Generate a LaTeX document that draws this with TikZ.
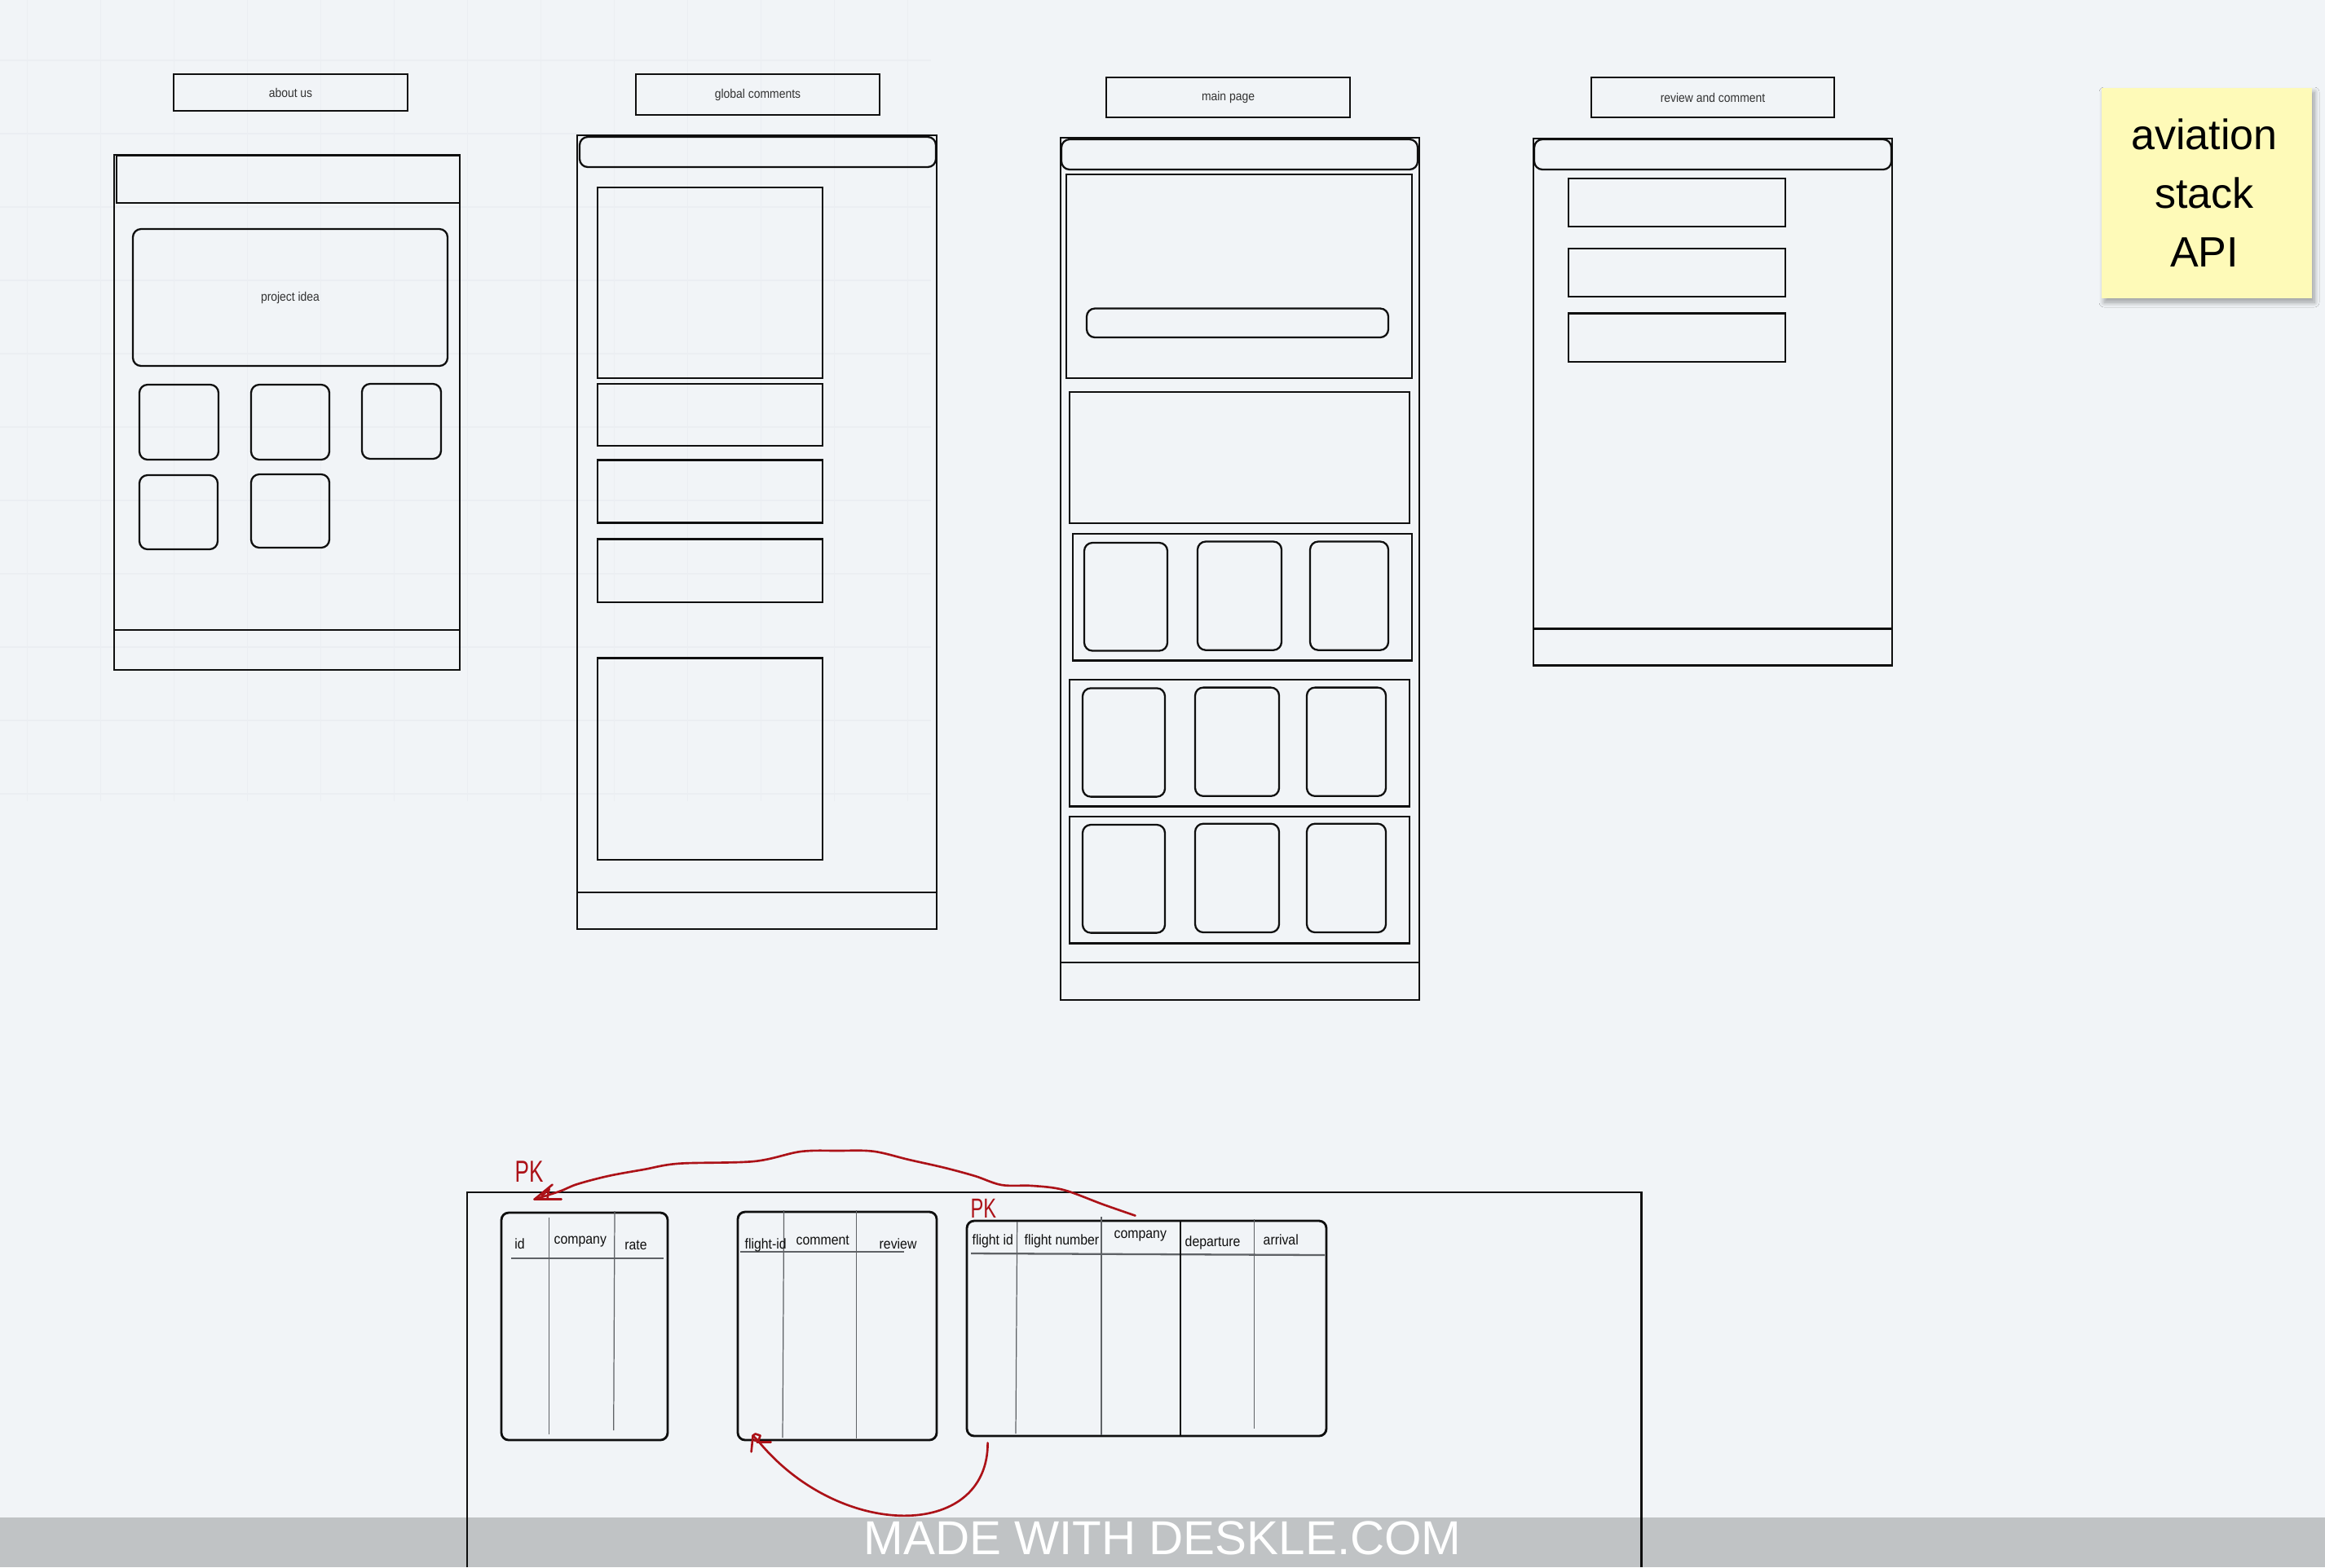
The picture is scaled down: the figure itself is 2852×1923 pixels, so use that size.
\documentclass[tikz,border=0pt]{standalone}
\usepackage{fontspec}
\setmainfont{Liberation Sans}
\newfontfamily\uifont[FakeStretch=0.9]{Liberation Sans}
\newfontfamily\handfont[FakeStretch=0.7]{Liberation Sans}
\usetikzlibrary{fit,calc,shadows.blur}

\definecolor{canvas}{RGB}{241,244,247}
\definecolor{gridc}{RGB}{235,238,242}
\definecolor{notey}{RGB}{254,250,184}
\definecolor{ink}{RGB}{15,15,15}
\definecolor{colgray}{RGB}{95,98,102}
\definecolor{redink}{RGB}{172,18,24}

% \wbox[style]{name}{x1}{y1}{x2}{y2}: an empty box spanning two corners
\newcommand{\wbox}[6][]{\node[fit={(#3,#4) (#5,#6)}, inner sep=0pt, #1] (#2) {};}

\begin{document}
\begin{tikzpicture}[x=0.01cm, y=-0.01cm,
  gridline/.style={draw=gridc, line width=0.3pt},
  pageframe/.style={draw=ink, line width=0.8pt},
  pane/.style={draw=ink, line width=0.65pt},
  roundpane/.style={pane, rounded corners=0.1cm},
  tagtext/.style={font=\uifont\fontsize{4.4pt}{5pt}\selectfont, text=ink!85, inner sep=0pt},
  dbtable/.style={draw=ink, line width=0.8pt, rounded corners=0.09cm},
  colrule/.style={draw=colgray, line width=0.35pt},
  headrule/.style={draw=colgray, line width=0.65pt},
  coltext/.style={font=\uifont\fontsize{5pt}{6pt}\selectfont, text=ink, inner sep=0pt, anchor=base west},
  sticky/.style={fill=notey, blur shadow={shadow xshift=0.03cm, shadow yshift=-0.05cm,
      shadow blur radius=0.06cm, shadow blur steps=8, shadow opacity=35}},
  redpen/.style={draw=redink, line width=0.75pt, line cap=round, line join=round},
  handtext/.style={text=redink, inner sep=0pt, anchor=base west}
]
\useasboundingbox (0,0) rectangle (2852,1923);
\fill[canvas] (0,0) rectangle (2852,1923);

% faint canvas grid in the upper left tile
\foreach \gx in {0,...,12} \draw[gridline] ({33.7+90*\gx},0) -- ({33.7+90*\gx},983);
\foreach \gy in {0,...,10} \draw[gridline] (0,{74+90*\gy}) -- (1142,{74+90*\gy});

% ---------------- about us ----------------
\wbox[pane]{aboutTag}{213}{91}{500}{136}
\node[tagtext] (aboutTxt) at (aboutTag.center) {about us};
\wbox[pageframe]{aboutFrame}{140}{190}{564}{822}
\wbox[pageframe]{aboutHead}{143}{191}{564}{249}
\wbox[roundpane]{aboutIdea}{163}{281}{549}{449}
\node[tagtext] (ideaTxt) at (aboutIdea.center) {project idea};
\wbox[roundpane]{aboutCardA}{171}{472}{268}{564}
\wbox[roundpane]{aboutCardB}{308}{472}{404}{564}
\wbox[roundpane]{aboutCardC}{444}{471}{541}{563}
\wbox[roundpane]{aboutCardD}{171}{583}{267}{674}
\wbox[roundpane]{aboutCardE}{308}{582}{404}{672}
\wbox[pageframe]{aboutFoot}{140}{773}{564}{822}

% ---------------- global comments ----------------
\wbox[pane]{globalTag}{780}{91}{1079}{141}
\node[tagtext] (globalTxt) at (globalTag.center) {global comments};
\wbox[pageframe]{globalFrame}{708}{166}{1149}{1140}
\wbox[roundpane]{globalHead}{711}{168}{1148}{205}
\wbox[pane]{globalBoxA}{733}{230}{1009}{464}
\wbox[pane]{globalBoxB}{733}{471}{1009}{547}
\wbox[pane]{globalBoxC}{733}{564.5}{1009}{641.6}
\wbox[pane]{globalBoxD}{733}{661.6}{1009}{738.7}
\wbox[pane]{globalBoxE}{733}{807.6}{1009}{1054.8}
\wbox[pageframe]{globalFoot}{708}{1095}{1149}{1140}

% ---------------- main page ----------------
\wbox[pane]{mainTag}{1357}{95}{1656}{144}
\node[tagtext] (mainTxt) at (mainTag.center) {main page};
\wbox[pageframe]{mainFrame}{1301}{169}{1741}{1227}
\wbox[roundpane]{mainHead}{1302}{171}{1739}{208}
\wbox[pane]{mainHero}{1308}{214}{1732}{464}
\wbox[roundpane]{mainSearch}{1333}{378.5}{1703}{414}
\wbox[pane]{mainBand}{1312}{481}{1729}{642}
\wbox[pane]{mainRowA}{1316}{655}{1732}{810.5}
\wbox[roundpane]{mainA1}{1330}{666}{1432}{798.5}
\wbox[roundpane]{mainA2}{1469}{664.5}{1572}{797.7}
\wbox[roundpane]{mainA3}{1607}{664.5}{1703}{797.7}
\wbox[pane]{mainRowB}{1312}{834}{1729}{989.6}
\wbox[roundpane]{mainB1}{1328}{844.4}{1429}{977.6}
\wbox[roundpane]{mainB2}{1466}{843.6}{1569}{976.8}
\wbox[roundpane]{mainB3}{1603}{843.6}{1700}{976.8}
\wbox[pane]{mainRowC}{1312}{1001.7}{1729}{1157.5}
\wbox[roundpane]{mainC1}{1328}{1012}{1429}{1144.6}
\wbox[roundpane]{mainC2}{1466}{1010.7}{1569}{1144}
\wbox[roundpane]{mainC3}{1603}{1010.7}{1700}{1144}
\wbox[pageframe]{mainFoot}{1301}{1181}{1741}{1227}

% ---------------- review and comment ----------------
\wbox[pane]{reviewTag}{1952}{95}{2250}{144}
\node[tagtext] (reviewTxt) at (reviewTag.center) {review and comment};
\wbox[pageframe]{reviewFrame}{1881}{170}{2321}{816.5}
\wbox[roundpane]{reviewHead}{1882}{171}{2320}{208}
\wbox[pane]{reviewBoxA}{1924}{219}{2190}{278}
\wbox[pane]{reviewBoxB}{1924}{305}{2190}{364}
\wbox[pane]{reviewBoxC}{1924}{384.6}{2190}{444}
\wbox[pageframe]{reviewFoot}{1881}{771.4}{2321}{816.5}

% ---------------- sticky note ----------------
\wbox[sticky]{apiNote}{2578}{108}{2836}{366}
\node[font=\fontsize{14.8pt}{20.5pt}\selectfont, align=center, text=black, inner sep=0pt]
  (apiTxt) at (2704,237) {aviation\\stack\\API};

% ---------------- database schema ----------------
\draw[line width=0.7pt, draw=ink] (573,1923) -- (573,1462.7) -- (2013.5,1462.7) -- (2013.5,1923);

% companies table
\wbox[dbtable]{tcompany}{615}{1488}{819}{1767}
\draw[headrule] (627,1543.7) -- (814,1543.7);
\draw[colrule] (673.5,1494) -- (673.5,1760);
\draw[colrule] (754,1486) -- (752.7,1755);
\node[coltext] (cId) at (630.6,1532) {id};
\node[coltext] (cCompany) at (679,1526) {company};
\node[coltext] (cRate) at (765.7,1533) {rate};

% comments table
\wbox[dbtable]{tcomment}{905}{1487}{1149}{1767}
\draw[headrule] (908,1535.7) -- (1109,1535.7);
\draw[colrule] (961.6,1485) -- (960,1764);
\draw[colrule] (1050.6,1485) -- (1050.6,1765);
\node[coltext] (mFlight) at (913,1532.7) {flight-id};
\node[coltext] (mComment) at (976,1527) {comment};
\node[coltext] (mReview) at (1078,1532.7) {review};

% flights table
\wbox[dbtable]{tflight}{1186}{1498}{1627}{1762}
\draw[headrule] (1191,1538) -- (1625,1540);
\draw[colrule] (1247.7,1499) -- (1246,1759);
\draw[colrule] (1351,1493) -- (1351,1761);
\draw[draw=ink, line width=0.4pt] (1448,1499) -- (1448,1762);
\draw[colrule] (1538.7,1496) -- (1538.7,1753);
\node[coltext] (fId) at (1192,1527.3) {flight id};
\node[coltext] (fNumber) at (1256,1527.3) {flight number};
\node[coltext] (fCompany) at (1366,1519.3) {company};
\node[coltext] (fDeparture) at (1453,1529.3) {departure};
\node[coltext] (fArrival) at (1549,1527.3) {arrival};

% ---------------- red pen notes ----------------
\node[handtext, font=\handfont\fontsize{10.6pt}{12pt}\selectfont] (pkA) at (631,1450) {PK};
\node[handtext, font=\handfont\fontsize{9.6pt}{11pt}\selectfont] (pkB) at (1190,1494) {PK};

% flights.company -> companies.id
\coordinate (fkAstart) at ($(tflight.north west)+(208,-5)$);
\coordinate (fkAtip) at ($(tcompany.north west)+(42,-15)$);
\draw[redpen] plot[smooth, tension=0.55] coordinates {
  (fkAstart) (1353.5,1478) (1304.6,1460) (1266.7,1455) (1228.7,1454) (1196,1443)
  (1158,1432.7) (1115,1423) (1071.5,1412.7) (1028,1412) (982,1413) (925,1425)
  (833,1427.7) (789.7,1435) (746,1443) (708,1453) (686.7,1461.7) (fkAtip)};
\draw[redpen] (fkAtip) -- ($(fkAtip)+(22,-18)$);
\draw[redpen] (fkAtip) -- ($(fkAtip)+(33,0)$);
\draw[redpen] ($(fkAtip)+(9,-4)$) -- ($(fkAtip)+(18,-13)$) -- ($(fkAtip)+(16,-2)$);

% flights.flight id -> comments.flight-id
\coordinate (fkBstart) at ($(tflight.south west)+(27,7)$);
\coordinate (fkBtip) at ($(tcomment.south west)+(20,-7)$);
\draw[redpen] (fkBstart) .. controls (1212,1890) and (1030,1890) .. (930,1768) -- (fkBtip);
\draw[redpen] (fkBtip) -- ($(fkBtip)+(-2,20)$);
\draw[redpen] (fkBtip) -- ($(fkBtip)+(3,-2)$) -- ($(fkBtip)+(9,0)$) -- ($(fkBtip)+(7,6)$) -- ($(fkBtip)+(2,6)$);
\draw[redpen] ($(fkBtip)+(5,8)$) -- ($(fkBtip)+(22,8)$);

% ---------------- watermark ----------------
\fill[black, opacity=0.2] (0,1862) rectangle (2852,1923);
\node[font=\fontsize{16.6pt}{18pt}\selectfont, text=white, inner sep=0pt, anchor=base]
  (watermark) at (1426,1907) {MADE WITH DESKLE.COM};
\end{tikzpicture}
\end{document}
